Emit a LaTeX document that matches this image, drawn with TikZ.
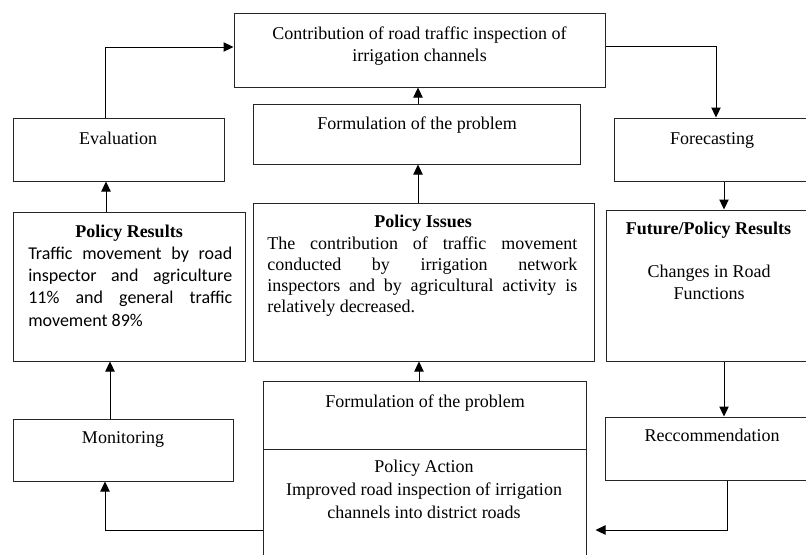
\documentclass[tikz,border=0pt]{standalone}
\usepackage{fontspec}
\setmainfont{Liberation Serif}
\newfontfamily\calfont{Carlito}
\usetikzlibrary{arrows.meta,fit}
\begin{document}
\begin{tikzpicture}[x=0.75pt,y=-0.75pt,
  box/.style={draw=black!85, line width=0.75pt, inner sep=0pt},
  txt/.style={inner sep=0pt, anchor=base},
  arr/.style={draw=black, line width=0.75pt, -{Triangle[length=7.5pt,width=7pt]}}]
\useasboundingbox (0,0) rectangle (806,554);
\fill[white] (0,0) rectangle (806,554);

% boxes
\node[box, fit={(234,13) (605,87)}] (contrib) {};
\node[box, fit={(13,118) (224,181)}] (eval) {};
\node[box, fit={(253,104) (580,164)}] (form1) {};
\node[box, fit={(614,118) (815,181)}] (forecast) {};
\node[box, fit={(13,212) (245,361)}] (results) {};
\node[box, fit={(253,203) (594,361)}] (issues) {};
\node[box, fit={(606,210) (815,361)}] (future) {};
\node[box, fit={(263,381) (586,449)}] (form2) {};
\node[box, fit={(263,449) (586,565)}] (action) {};
\node[box, fit={(13,419) (233,481)}] (monitor) {};
\node[box, fit={(605,417) (815,480)}] (recom) {};

% texts
\node[txt, font=\fontsize{13.5pt}{16.5pt}\selectfont] (contribT) at (419.5,39)
  {\begin{tabular}[t]{@{}c@{}}Contribution of road traffic inspection of\\irrigation channels\end{tabular}};
\node[txt, font=\fontsize{13.5pt}{16.5pt}\selectfont] (evalT) at (118,144) {Evaluation};
\node[txt, font=\fontsize{13.5pt}{16.5pt}\selectfont] (form1T) at (417,129) {Formulation of the problem};
\node[txt, font=\fontsize{13.5pt}{16.5pt}\selectfont] (forecastT) at (712,144) {Forecasting};

\node[txt, font=\fontsize{13.5pt}{16.5pt}\selectfont\bfseries] (resultsH) at (129,237) {Policy Results};
\node[txt, anchor=base west, font=\fontsize{13.5pt}{16.75pt}\calfont] (resultsT) at (28,259)
  {\begin{tabular}[t]{@{}l@{}}\makebox[153pt][s]{Traffic movement by road}\\
  \makebox[153pt][s]{inspector and agriculture}\\
  \makebox[153pt][s]{11\% and general traffic}\\
  movement 89\%\end{tabular}};

\node[txt, font=\fontsize{13.5pt}{16.5pt}\selectfont\bfseries] (issuesH) at (423,227) {Policy Issues};
\node[txt, anchor=base west, font=\fontsize{13.5pt}{15.75pt}\selectfont] (issuesT) at (267,249)
  {\begin{tabular}[t]{@{}l@{}}\makebox[232.5pt][s]{The contribution of traffic movement}\\
  \makebox[232.5pt][s]{conducted by irrigation network}\\
  \makebox[232.5pt][s]{inspectors and by agricultural activity is}\\
  relatively decreased.\end{tabular}};

\node[txt, font=\fontsize{13.5pt}{16.5pt}\selectfont\bfseries] (futureH) at (708.5,234) {Future/Policy Results};
\node[txt, font=\fontsize{13.5pt}{16.5pt}\selectfont] (futureT) at (709,277)
  {\begin{tabular}[t]{@{}c@{}}Changes in Road\\Functions\end{tabular}};

\node[txt, font=\fontsize{13.5pt}{16.5pt}\selectfont] (form2T) at (425,407) {Formulation of the problem};
\node[txt, font=\fontsize{13.5pt}{17.25pt}\selectfont] (actionT) at (424,472)
  {\begin{tabular}[t]{@{}c@{}}Policy Action\\Improved road inspection of irrigation\\channels into district roads\end{tabular}};
\node[txt, font=\fontsize{13.5pt}{16.5pt}\selectfont] (monitorT) at (123,443) {Monitoring};
\node[txt, font=\fontsize{13.5pt}{16.5pt}\selectfont] (recomT) at (712,441) {Reccommendation};

% connectors
\coordinate (k1) at (105,47);
\draw[arr] (eval.north -| k1) |- (contrib.west |- k1);
\coordinate (k2) at (716,46);
\draw[arr] (contrib.east |- k2) -| (forecast.north -| k2);
\coordinate (k3) at (418,0);
\draw[arr] (form1.north -| k3) -- (contrib.south -| k3);
\draw[arr] (issues.north -| k3) -- (form1.south -| k3);
\coordinate (k4) at (419,0);
\draw[arr] (form2.north -| k4) -- (issues.south -| k4);
\coordinate (k5) at (106,0);
\draw[arr] (results.north -| k5) -- (eval.south -| k5);
\coordinate (k6) at (110,0);
\draw[arr] (monitor.north -| k6) -- (results.south -| k6);
\coordinate (k7) at (724,0);
\draw[arr] (forecast.south -| k7) -- (future.north -| k7);
\draw[arr] (future.south -| k7) -- (recom.north -| k7);
\coordinate (k8) at (105,530);
\draw[arr] (action.west |- k8) -| (monitor.south -| k8);
\coordinate (k9) at (727,530);
\draw[arr, shorten >=6.75pt] (recom.south -| k9) |- (action.east |- k9);
\end{tikzpicture}
\end{document}
